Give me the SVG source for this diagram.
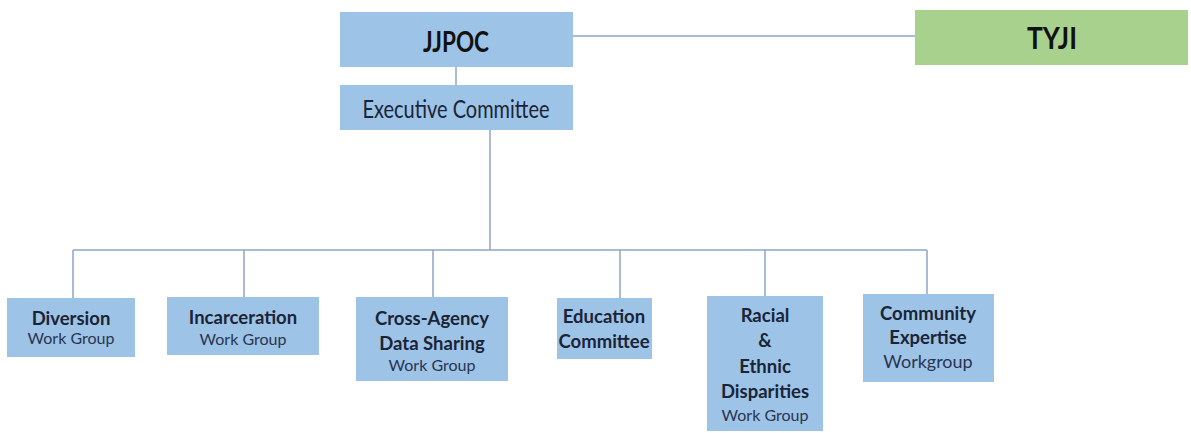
<svg xmlns="http://www.w3.org/2000/svg" width="1191" height="433" viewBox="0 0 1191 433">
<style>
.box{fill:#9dc3e6;}
.green{fill:#a9d18e;}
.conn{stroke:#8ea6c4;stroke-width:1.5;fill:none;}
text{font-family:Lato,"Open Sans",sans-serif;fill:#1b2436;text-anchor:middle;}
.b{font-weight:bold;font-size:18.5px;}
.r{font-size:16px;fill:#2a3550;}
.big{font-weight:bold;font-size:28px;fill:#111;}
</style>
<rect width="1191" height="433" fill="#ffffff"/>
<g id="connectors">
<line class="conn" x1="573" y1="36" x2="915" y2="36"/>
<line class="conn" x1="456" y1="67" x2="456" y2="85"/>
<line class="conn" x1="490" y1="130" x2="490" y2="250"/>
<line class="conn" x1="73" y1="250" x2="927" y2="250"/>
<line class="conn" x1="73" y1="250" x2="73" y2="298"/>
<line class="conn" x1="244" y1="250" x2="244" y2="297"/>
<line class="conn" x1="433" y1="250" x2="433" y2="297"/>
<line class="conn" x1="620" y1="250" x2="620" y2="298"/>
<line class="conn" x1="765" y1="250" x2="765" y2="296"/>
<line class="conn" x1="927" y1="250" x2="927" y2="294"/>
</g>
<g id="jjpoc">
<rect class="box" x="340" y="12" width="233" height="55"/>
<text class="big" x="456" y="52" textLength="66" lengthAdjust="spacingAndGlyphs">JJPOC</text>
</g>
<g id="tyji">
<rect class="green" x="915" y="10" width="273" height="55"/>
<text class="big" x="1052" y="49" style="font-size:30px" textLength="50" lengthAdjust="spacingAndGlyphs">TYJI</text>
</g>
<g id="executive">
<rect class="box" x="340" y="85" width="233" height="45"/>
<text x="456" y="118" style="font-size:25px" textLength="187" lengthAdjust="spacingAndGlyphs">Executive Committee</text>
</g>
<g id="diversion">
<rect class="box" x="7" y="298" width="128" height="59"/>
<text class="b" x="71" y="325">Diversion</text>
<text class="r" x="71" y="344">Work Group</text>
</g>
<g id="incarceration">
<rect class="box" x="167" y="297" width="152" height="58"/>
<text class="b" x="243" y="324">Incarceration</text>
<text class="r" x="243" y="345">Work Group</text>
</g>
<g id="cross-agency">
<rect class="box" x="356" y="297" width="152" height="84"/>
<text class="b" x="432" y="325">Cross-Agency</text>
<text class="b" x="432" y="350">Data Sharing</text>
<text class="r" x="432" y="371">Work Group</text>
</g>
<g id="education">
<rect class="box" x="557" y="298" width="95" height="61"/>
<text class="b" x="604" y="323">Education</text>
<text class="b" x="604" y="348">Committee</text>
</g>
<g id="racial">
<rect class="box" x="707" y="296" width="116" height="135"/>
<text class="b" x="765" y="322">Racial</text>
<text class="b" x="765" y="347">&amp;</text>
<text class="b" x="765" y="373">Ethnic</text>
<text class="b" x="765" y="398">Disparities</text>
<text class="r" x="765" y="421">Work Group</text>
</g>
<g id="community">
<rect class="box" x="863" y="294" width="131" height="88"/>
<text class="b" x="928" y="320">Community</text>
<text class="b" x="928" y="344">Expertise</text>
<text class="r" x="928" y="368" style="font-size:18px">Workgroup</text>
</g>
</svg>
